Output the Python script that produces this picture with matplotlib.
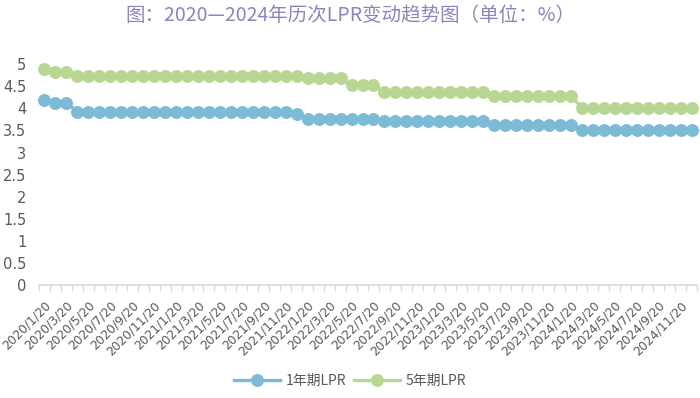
import numpy as np
import matplotlib.pyplot as plt
from matplotlib.ticker import FixedLocator

plt.rcParams['font.family'] = ['Noto Sans CJK SC', 'DejaVu Sans']

#Monthly dates, one point per month (2020/1 - 2024/12)
dates = ["2020/1/20", "2020/2/20", "2020/3/20", "2020/4/20", "2020/5/20", "2020/6/20",
         "2020/7/20", "2020/8/20", "2020/9/20", "2020/10/20", "2020/11/20", "2020/12/20",
         "2021/1/20", "2021/2/20", "2021/3/20", "2021/4/20", "2021/5/20", "2021/6/20",
         "2021/7/20", "2021/8/20", "2021/9/20", "2021/10/20", "2021/11/20", "2021/12/20",
         "2022/1/20", "2022/2/20", "2022/3/20", "2022/4/20", "2022/5/20", "2022/6/20",
         "2022/7/20", "2022/8/20", "2022/9/20", "2022/10/20", "2022/11/20", "2022/12/20",
         "2023/1/20", "2023/2/20", "2023/3/20", "2023/4/20", "2023/5/20", "2023/6/20",
         "2023/7/20", "2023/8/20", "2023/9/20", "2023/10/20", "2023/11/20", "2023/12/20",
         "2024/1/20", "2024/2/20", "2024/3/20", "2024/4/20", "2024/5/20", "2024/6/20",
         "2024/7/20", "2024/8/20", "2024/9/20", "2024/10/20", "2024/11/20", "2024/12/20"]

#1-year LPR
lpr_1y = [4.20, 4.13, 4.13, 3.92, 3.92, 3.92, 3.92, 3.92, 3.92, 3.92, 3.92, 3.92,
          3.92, 3.92, 3.92, 3.92, 3.92, 3.92, 3.92, 3.92, 3.92, 3.92, 3.92, 3.87,
          3.77, 3.77, 3.77, 3.77, 3.77, 3.77, 3.77, 3.72, 3.72, 3.72, 3.72, 3.72,
          3.72, 3.72, 3.72, 3.72, 3.72, 3.62, 3.62, 3.62, 3.62, 3.62, 3.62, 3.62,
          3.62, 3.51, 3.51, 3.51, 3.51, 3.51, 3.51, 3.51, 3.51, 3.51, 3.51, 3.51]

#5-year LPR
lpr_5y = [4.89, 4.83, 4.83, 4.74, 4.74, 4.74, 4.74, 4.74, 4.74, 4.74, 4.74, 4.74,
          4.74, 4.74, 4.74, 4.74, 4.74, 4.74, 4.74, 4.74, 4.74, 4.74, 4.74, 4.74,
          4.68, 4.68, 4.68, 4.68, 4.53, 4.53, 4.53, 4.38, 4.38, 4.38, 4.38, 4.38,
          4.38, 4.38, 4.38, 4.38, 4.38, 4.28, 4.28, 4.28, 4.28, 4.28, 4.28, 4.28,
          4.28, 4.02, 4.02, 4.02, 4.02, 4.02, 4.02, 4.02, 4.02, 4.02, 4.02, 4.02]

y_ticks = [0, 0.5, 1, 1.5, 2, 2.5, 3, 3.5, 4, 4.5, 5]

blue = "#7bbbd5"
green = "#b8d793"
grey = "#595959"

fig = plt.figure(figsize=(7, 3.98), dpi=100)
ax = fig.add_axes([0.0557, 0.284, 0.94, 0.61])

x = np.arange(len(dates))
ax.plot(x, lpr_1y, color=blue, lw=2.4, marker="o", ms=8.3, label="1年期LPR", clip_on=False)
ax.plot(x, lpr_5y, color=green, lw=2.4, marker="o", ms=8.3, label="5年期LPR", clip_on=False)

ax.set_xlim(-0.5, len(dates) - 0.5)
ax.set_ylim(0, 5.5)
ax.set_yticks(y_ticks)
ax.set_yticklabels([("%g" % v) for v in y_ticks], family="DejaVu Sans")
ax.tick_params(axis="y", length=0, pad=9, labelsize=10.5, labelcolor=grey)

#Labels every second month, small tick marks between categories
ax.set_xticks(x[::2])
ax.set_xticklabels(dates[::2], rotation=45, ha="right", rotation_mode="anchor",
                   family="DejaVu Sans", fontsize=8.8, color=grey)
ax.tick_params(axis="x", length=0, pad=10)
ax.xaxis.set_minor_locator(FixedLocator(np.arange(-0.5, len(dates), 1)))
ax.tick_params(axis="x", which="minor", length=4, color="#d9d9d9", width=1)

for s in ["top", "right", "left"]:
    ax.spines[s].set_visible(False)
ax.spines["bottom"].set_color("#d9d9d9")
ax.spines["bottom"].set_linewidth(1.2)

fig.text(0.5, 0.962, "图：2020—2024年历次LPR变动趋势图（单位：%）", ha="center", va="center",
         fontsize=14, color="#8c84c2")

fig.legend(loc="center", bbox_to_anchor=(0.5, 0.043), ncol=2, frameon=False,
           fontsize=10, labelcolor=grey, handlelength=3.3, columnspacing=0.6,
           handletextpad=0.4)

plt.savefig("out.png", dpi=100)
